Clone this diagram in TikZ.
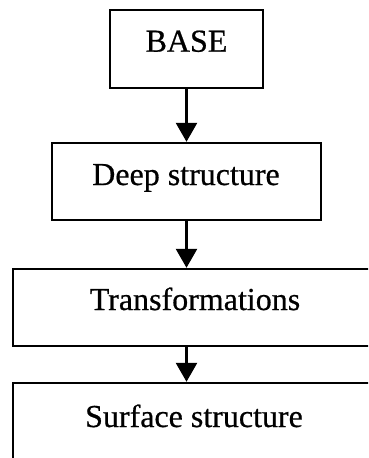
\documentclass[tikz,border=0pt]{standalone}
\usepackage{fontspec}
\setmainfont[FakeBold=0.6]{Liberation Serif}
\usetikzlibrary{arrows.meta}
\begin{document}
\begin{tikzpicture}[x=1pt,y=1pt,
  box/.style={draw=black,line width=2.4pt,rectangle,inner sep=0pt},
  lbl/.style={anchor=base,inner sep=0pt,font=\fontsize{32}{36}\selectfont},
  conn/.style={line width=2.6pt,-{Triangle[width=21pt,length=19pt]}}]
\useasboundingbox (0,0) rectangle (368,-458);
\fill[white] (0,0) rectangle (368,-458);
\begin{scope}
\clip (0,0) rectangle (368,-458);
\node[box,minimum width=153pt,minimum height=78pt] (base) at (186.5,-49) {};
\node[box,minimum width=269pt,minimum height=77pt] (deep) at (186.5,-181.5) {};
\node[box,minimum width=370pt,minimum height=77pt] (trans) at (198,-307.5) {};
\node[box,minimum width=370pt,minimum height=90pt] (surf) at (198,-428) {};
\node[lbl] (tbase) at (186.5,-51.7) {BASE};
\node[lbl] (tdeep) at (186,-185) {Deep structure};
\node[lbl] (ttrans) at (195,-310) {Transformations};
\node[lbl] (tsurf) at (194,-427) {Surface structure};
\draw[conn] (base.south) -- (deep.north);
\draw[conn] (deep.south) -- (deep.south |- trans.north);
\draw[conn] (deep.south |- trans.south) -- (deep.south |- surf.north);
\end{scope}
\end{tikzpicture}
\end{document}
